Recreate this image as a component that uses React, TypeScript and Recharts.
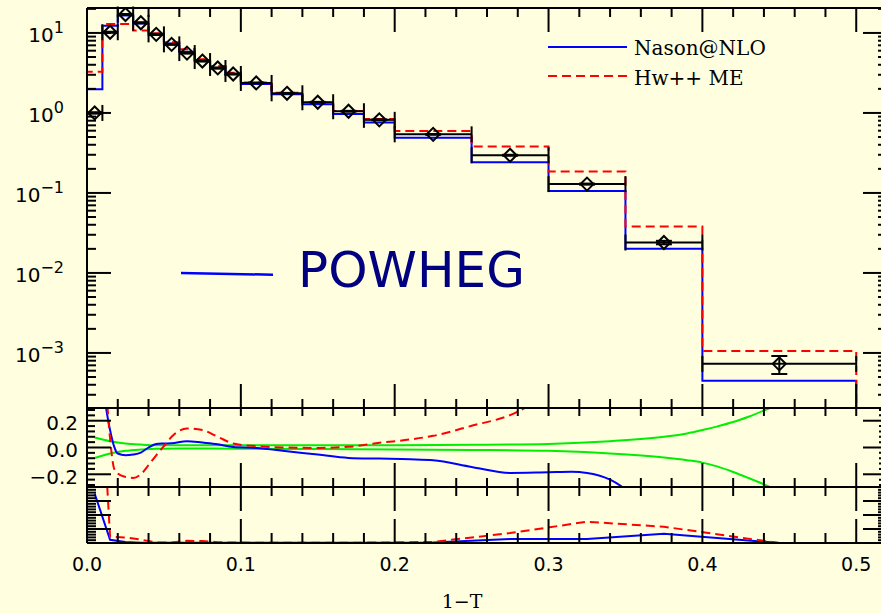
import React from 'react';
import { ComposedChart, Line, Scatter, ErrorBar, XAxis, YAxis } from 'recharts';

// 1-T distribution: histogram bin edges and values
const binEdges = [0, 0.01, 0.02, 0.03, 0.04, 0.05, 0.06, 0.07, 0.08, 0.09, 0.1, 0.12, 0.14, 0.16, 0.18, 0.2, 0.25, 0.3, 0.35, 0.4, 0.5];
const dataValues = [1.0, 10.2, 17.0, 13.4, 9.6, 7.2, 5.6, 4.45, 3.65, 3.07, 2.37, 1.76, 1.36, 1.05, 0.82, 0.54, 0.296, 0.129, 0.024, 0.00073];
const dataErrors = [0.02, 0.15, 0.25, 0.2, 0.14, 0.1, 0.08, 0.06, 0.05, 0.04, 0.03, 0.02, 0.016, 0.012, 0.01, 0.006, 0.004, 0.002, 0.0012, 0.000185];
const nasonValues = [1.98, 12.3, 16.5, 13.1, 9.5, 7.4, 5.8, 4.5, 3.6, 3.05, 2.3, 1.71, 1.28, 0.97, 0.757, 0.49, 0.242, 0.106, 0.0201, 0.00045];
const hwmeValues = [3.28, 12.9, 12.9, 10.7, 9.9, 7.65, 6.25, 4.7, 3.87, 3.19, 2.4, 1.79, 1.35, 1.06, 0.84, 0.596, 0.38, 0.185, 0.038, 0.00106];

// relative deviation (MC - data) / data
const nasonRatioX = [0.005, 0.015, 0.0175, 0.02, 0.025, 0.03, 0.035, 0.04, 0.045, 0.05, 0.055, 0.065, 0.075, 0.085, 0.095, 0.11, 0.13, 0.15, 0.17, 0.19, 0.21, 0.225, 0.25, 0.275, 0.3, 0.315, 0.325, 0.34, 0.36];
const nasonRatio = [0.9, 0.13, 0.012, -0.045, -0.058, -0.053, -0.038, 0.0, 0.027, 0.03, 0.032, 0.047, 0.037, 0.025, 0.003, -0.003, -0.028, -0.053, -0.078, -0.083, -0.088, -0.095, -0.145, -0.19, -0.185, -0.182, -0.19, -0.24, -0.4];
const hwmeRatioX = [0.005, 0.015, 0.0175, 0.02, 0.025, 0.03, 0.035, 0.04, 0.045, 0.05, 0.055, 0.06, 0.065, 0.075, 0.085, 0.095, 0.11, 0.13, 0.15, 0.17, 0.19, 0.21, 0.225, 0.25, 0.275, 0.3];
const hwmeRatio = [2.3, 0.067, -0.153, -0.195, -0.22, -0.227, -0.2, -0.132, -0.058, 0.01, 0.08, 0.125, 0.142, 0.13, 0.08, 0.03, 0.01, 0.0, -0.003, 0.005, 0.035, 0.06, 0.087, 0.162, 0.242, 0.4];

// data uncertainty band
const bandX = [0.005, 0.015, 0.025, 0.035, 0.045, 0.06, 0.1, 0.15, 0.2, 0.25, 0.3, 0.34, 0.375, 0.39, 0.4, 0.41, 0.42, 0.43, 0.445];
const bandUpper = [0.075, 0.047, 0.03, 0.022, 0.017, 0.016, 0.016, 0.016, 0.017, 0.02, 0.027, 0.047, 0.08, 0.105, 0.13, 0.158, 0.19, 0.23, 0.3];
const bandLower = [-0.078, -0.045, -0.025, -0.015, -0.009, -0.008, -0.009, -0.012, -0.014, -0.018, -0.025, -0.045, -0.075, -0.095, -0.113, -0.143, -0.183, -0.228, -0.3];

// chi^2 contribution per bin
const nasonChi = [0.88, 0.058, 0.018, 0.006, 0.005, 0.005, 0.005, 0.005, 0.005, 0.005, 0.005, 0.005, 0.005, 0.005, 0.006, 0.01, 0.07, 0.07, 0.164, 0];
const hwmeChi = [5.0, 0.11, 0.1, 0.06, 0.01, 0.01, 0.04, 0.035, 0.015, 0.008, 0.005, 0.005, 0.005, 0.005, 0.008, 0.02, 0.177, 0.38, 0.29, 0];

const xLabelTicks = [0, 0.1, 0.2, 0.3, 0.4, 0.5];
const logLabelTicks = [1e-3, 1e-2, 1e-1, 1, 10];
const logExponents = ['\u22123', '\u22122', '\u22121', '0', '1'];
const ratioLabelTicks = [-0.2, 0, 0.2];

const X_DOMAIN: [number, number] = [0, 0.52];
const LOG_DOMAIN: [number, number] = [2.05e-4, 20.5];
const RATIO_DOMAIN: [number, number] = [-0.295, 0.295];
const CHI_DOMAIN: [number, number] = [0, 1];
const FLOOR = 1e-6;

const BG = '#ffffe0';
const BLUE = '#0000ff';
const RED = '#ff0000';
const GREEN = '#00ee00';
const DASH = '9 5';

const centers = dataValues.map((_, i) => (binEdges[i] + binEdges[i + 1]) / 2);

const points = dataValues.map((v, i) => ({
  x: centers[i],
  y: v,
  xerr: (binEdges[i + 1] - binEdges[i]) / 2,
  yerr: dataErrors[i],
}));

const steps = (vals: number[]) => [
  { x: binEdges[0], y: FLOOR },
  ...vals.map((v, i) => ({ x: binEdges[i], y: v })),
  { x: binEdges[binEdges.length - 1], y: vals[vals.length - 1] },
  { x: binEdges[binEdges.length - 1], y: FLOOR },
];

const series = (xs: number[], ys: number[]) => xs.map((x, i) => ({ x, y: ys[i] }));

const xTicks = Array.from({ length: 27 }, (_, i) => i / 50);
const logTicks: number[] = [];
for (let e = -4; e <= 1; e++) {
  for (let d = 1; d <= 9; d++) {
    const v = Number((d * Math.pow(10, e)).toPrecision(6));
    if (v >= LOG_DOMAIN[0] && v <= LOG_DOMAIN[1]) logTicks.push(v);
  }
}
const ratioTicks = Array.from({ length: 15 }, (_, i) => Math.round((i - 7) * 4) / 100);
const chiTicks = Array.from({ length: 19 }, (_, i) => Math.round((i + 1) * 5) / 100);

const near = (a: number, b: number) => Math.abs(a - b) < 1e-6;
const xMajor = (v: number) => near(v * 10, Math.round(v * 10));
const logMajor = (v: number) => near(Math.log10(v), Math.round(Math.log10(v)));
const ratioMajor = (v: number) => near(v * 5, Math.round(v * 5));
const chiMajor = (v: number) => near(v * 4, Math.round(v * 4));

type Side = 'top' | 'bottom' | 'left' | 'right';

const makeTick = (
  side: Side,
  length: (v: number) => number,
  label?: (v: number, x: number, y: number) => React.ReactNode
) =>
  (props: any) => {
    const { x, y, payload } = props;
    const v = payload.value;
    const len = length(v);
    const dx = side === 'left' ? len : side === 'right' ? -len : 0;
    const dy = side === 'top' ? len : side === 'bottom' ? -len : 0;
    return (
      <g>
        <line x1={x} y1={y} x2={x + dx} y2={y + dy} stroke="#000" strokeWidth={2} />
        {label ? label(v, x, y) : null}
      </g>
    );
  };

const lenX = (v: number) => (xMajor(v) ? 24 : 9);
const lenLog = (v: number) => (logMajor(v) ? 24 : 9);
const lenRatio = (v: number) => (ratioMajor(v) ? 24 : 8);
const lenChi = (v: number) => (chiMajor(v) ? 24 : 9);

const logLabel = (v: number, x: number, y: number) => {
  const k = logLabelTicks.findIndex((t) => near(Math.log10(t), Math.log10(v)));
  if (k < 0) return null;
  return (
    <text x={x - 23} y={y + 9} textAnchor="end" fontFamily="DejaVu Sans" fontSize={20} fill="#000">
      10<tspan dy={-9} fontSize={16}>{logExponents[k]}</tspan>
    </text>
  );
};

const ratioLabel = (v: number, x: number, y: number) => {
  if (!ratioLabelTicks.some((t) => near(t, v))) return null;
  const s = (Math.abs(v) < 1e-9 ? 0 : v).toFixed(1).replace('-', '\u2212');
  return (
    <text x={x - 9} y={y + 9.5} textAnchor="end" fontFamily="DejaVu Sans" fontSize={20} fill="#000">
      {s}
    </text>
  );
};

const xLabel = (v: number, x: number, y: number) => {
  if (!xLabelTicks.some((t) => near(t, v))) return null;
  return (
    <text x={x} y={y + 27.5} textAnchor="middle" fontFamily="DejaVu Sans" fontSize={19} fill="#000">
      {v.toFixed(1)}
    </text>
  );
};

const Diamond = (p: any) => {
  const { cx, cy } = p;
  const s = 6.5;
  return (
    <path
      d={`M${cx},${cy - s}L${cx + s},${cy}L${cx},${cy + s}L${cx - s},${cy}Z`}
      fill="none"
      stroke="#000"
      strokeWidth={2}
    />
  );
};

const frameLine = { stroke: '#000', strokeWidth: 2 };

// shared frame: four axes with inward ticks
const frame = (
  yDomain: [number, number],
  yTicks: number[],
  opts: {
    log?: boolean;
    topLen: (v: number) => number;
    bottomLen: (v: number) => number;
    sideLen: (v: number) => number;
    leftLabel?: (v: number, x: number, y: number) => React.ReactNode;
    bottomLabel?: (v: number, x: number, y: number) => React.ReactNode;
  }
) => [
  <XAxis
    key="xb"
    xAxisId="b"
    dataKey="x"
    type="number"
    orientation="bottom"
    domain={X_DOMAIN}
    allowDataOverflow
    ticks={xTicks}
    interval={0}
    height={1}
    tickSize={0}
    tickMargin={0}
    axisLine={frameLine}
    tickLine={false}
    tick={makeTick('bottom', opts.bottomLen, opts.bottomLabel)}
  />,
  <XAxis
    key="xt"
    xAxisId="t"
    dataKey="x"
    type="number"
    orientation="top"
    domain={X_DOMAIN}
    allowDataOverflow
    ticks={xTicks}
    interval={0}
    height={1}
    tickSize={0}
    tickMargin={0}
    axisLine={frameLine}
    tickLine={false}
    tick={makeTick('top', opts.topLen)}
  />,
  <YAxis
    key="yl"
    yAxisId="l"
    type="number"
    orientation="left"
    scale={opts.log ? 'log' : 'linear'}
    domain={yDomain}
    allowDataOverflow
    ticks={yTicks}
    interval={0}
    width={1}
    tickSize={0}
    tickMargin={0}
    axisLine={frameLine}
    tickLine={false}
    tick={makeTick('left', opts.sideLen, opts.leftLabel)}
  />,
  <YAxis
    key="yr"
    yAxisId="r"
    type="number"
    orientation="right"
    scale={opts.log ? 'log' : 'linear'}
    domain={yDomain}
    allowDataOverflow
    ticks={yTicks}
    interval={0}
    width={1}
    tickSize={0}
    tickMargin={0}
    axisLine={frameLine}
    tickLine={false}
    tick={makeTick('right', opts.sideLen)}
  />,
];

const W = 900;
const margin = (top: number, bottom: number) => ({ top, bottom, left: 86, right: 12 });

export default function App() {
  return (
    <div
      style={{
        position: 'absolute',
        left: 0,
        top: 0,
        width: 881,
        height: 613,
        overflow: 'hidden',
        background: BG,
      }}
    >
      {/* main distribution */}
      <div style={{ position: 'absolute', left: 0, top: 0 }}>
        <ComposedChart width={W} height={420} margin={margin(7, 11)}>
          {frame(LOG_DOMAIN, logTicks, {
            log: true,
            topLen: lenX,
            bottomLen: lenX,
            sideLen: lenLog,
            leftLabel: logLabel,
          })}
          <Line
            data={steps(nasonValues)}
            xAxisId="b"
            yAxisId="l"
            dataKey="y"
            type="stepAfter"
            stroke={BLUE}
            strokeWidth={2}
            dot={false}
            isAnimationActive={false}
          />
          <Line
            data={steps(hwmeValues)}
            xAxisId="b"
            yAxisId="l"
            dataKey="y"
            type="stepAfter"
            stroke={RED}
            strokeWidth={2}
            strokeDasharray={DASH}
            dot={false}
            isAnimationActive={false}
          />
          <Scatter
            data={points}
            xAxisId="b"
            yAxisId="l"
            dataKey="y"
            shape={Diamond}
            isAnimationActive={false}
          >
            <ErrorBar dataKey="xerr" direction="x" width={8} stroke="#000" strokeWidth={2} />
            <ErrorBar dataKey="yerr" direction="y" width={8} stroke="#000" strokeWidth={2} />
          </Scatter>
        </ComposedChart>
      </div>

      {/* relative deviation */}
      <div style={{ position: 'absolute', left: 0, top: 400 }}>
        <ComposedChart width={W} height={100} margin={margin(7, 12)}>
          {frame(RATIO_DOMAIN, ratioTicks, {
            topLen: () => 8,
            bottomLen: lenX,
            sideLen: lenRatio,
            leftLabel: ratioLabel,
          })}
          <Line data={series(bandX, bandUpper)} xAxisId="b" yAxisId="l" dataKey="y" type="monotone" stroke={GREEN} strokeWidth={2} dot={false} isAnimationActive={false} />
          <Line data={series(bandX, bandLower)} xAxisId="b" yAxisId="l" dataKey="y" type="monotone" stroke={GREEN} strokeWidth={2} dot={false} isAnimationActive={false} />
          <Line data={series(nasonRatioX, nasonRatio)} xAxisId="b" yAxisId="l" dataKey="y" type="monotone" stroke={BLUE} strokeWidth={2} dot={false} isAnimationActive={false} />
          <Line data={series(hwmeRatioX, hwmeRatio)} xAxisId="b" yAxisId="l" dataKey="y" type="monotone" stroke={RED} strokeWidth={2} strokeDasharray={DASH} dot={false} isAnimationActive={false} />
        </ComposedChart>
      </div>

      {/* chi^2 per bin */}
      <div style={{ position: 'absolute', left: 0, top: 480 }}>
        <ComposedChart width={W} height={133} margin={margin(6, 69)}>
          {frame(CHI_DOMAIN, chiTicks, {
            topLen: lenX,
            bottomLen: (v) => (xMajor(v) ? 24 : 10),
            sideLen: lenChi,
            bottomLabel: xLabel,
          })}
          <Line data={series(centers, nasonChi)} xAxisId="b" yAxisId="l" dataKey="y" type="linear" stroke={BLUE} strokeWidth={2} dot={false} isAnimationActive={false} />
          <Line data={series(centers, hwmeChi)} xAxisId="b" yAxisId="l" dataKey="y" type="linear" stroke={RED} strokeWidth={2} strokeDasharray={DASH} dot={false} isAnimationActive={false} />
        </ComposedChart>
      </div>

      {/* legend, annotation and axis title */}
      <svg width={881} height={613} style={{ position: 'absolute', left: 0, top: 0, pointerEvents: 'none' }}>
        <line x1={548} y1={47} x2={627} y2={47} stroke={BLUE} strokeWidth={2} />
        <text x={634} y={55} fontFamily="DejaVu Serif" fontSize={20} fill="#000">Nason@NLO</text>
        <line x1={548} y1={76} x2={627} y2={76} stroke={RED} strokeWidth={2} strokeDasharray={DASH} />
        <text x={634} y={85} fontFamily="DejaVu Serif" fontSize={20} fill="#000">Hw++ ME</text>

        <line x1={181} y1={273} x2={273} y2={274.7} stroke={BLUE} strokeWidth={2.5} />
        <text x={298} y={287} fontFamily="DejaVu Sans" fontSize={50} fill="#000080">POWHEG</text>

        <text x={462} y={608} textAnchor="middle" fontFamily="DejaVu Serif" fontSize={19} fill="#000">1{'\u2212'}T</text>
      </svg>
    </div>
  );
}
